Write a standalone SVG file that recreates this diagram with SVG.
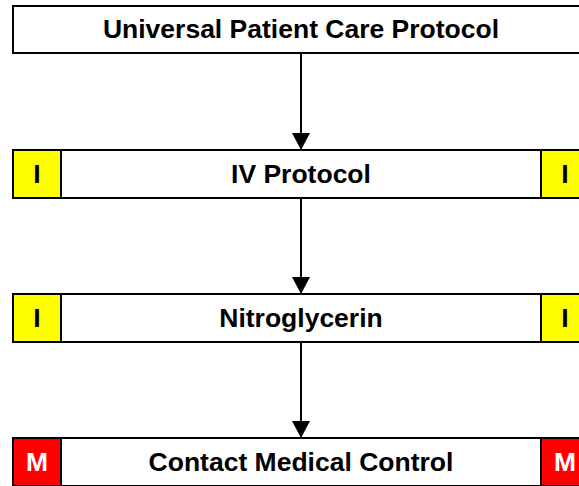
<svg xmlns="http://www.w3.org/2000/svg" width="579" height="486" viewBox="0 0 579 486">
<defs>
<style>
.box{fill:#fff;stroke:#000;stroke-width:2}
.tagI{fill:#ffff00;stroke:#000;stroke-width:2}
.tagM{fill:#ff0000;stroke:#000;stroke-width:2}
.t{font-family:"Liberation Sans",Arial,sans-serif;font-weight:bold;font-size:26.5px;text-anchor:middle;fill:#000}
.tw{font-family:"Liberation Sans",Arial,sans-serif;font-weight:bold;font-size:26.5px;text-anchor:middle;fill:#fff}
.ln{stroke:#000;stroke-width:2;fill:none}
</style>
<marker id="ah" markerWidth="17" markerHeight="18" refX="17" refY="9" orient="auto" markerUnits="userSpaceOnUse">
<path d="M0,0 L17,9 L0,18 Z" fill="#000"/>
</marker>
</defs>
<g id="connectors">
<line class="ln" x1="301" y1="53" x2="301" y2="150" marker-end="url(#ah)"/>
<line class="ln" x1="301" y1="198" x2="301" y2="294" marker-end="url(#ah)"/>
<line class="ln" x1="301" y1="342" x2="301" y2="438" marker-end="url(#ah)"/>
</g>
<g id="n1">
<rect class="box" x="13" y="6" width="576" height="47"/>
<text class="t" x="301" y="38">Universal Patient Care Protocol</text>
</g>
<g id="n2">
<rect class="box" x="13" y="150" width="576" height="48"/>
<rect class="tagI" x="13" y="150" width="48" height="48"/>
<rect class="tagI" x="541" y="150" width="48" height="48"/>
<text class="t" x="301" y="183">IV Protocol</text>
<text class="t" x="37" y="183">I</text>
<text class="t" x="565" y="183">I</text>
</g>
<g id="n3">
<rect class="box" x="13" y="294" width="576" height="48"/>
<rect class="tagI" x="13" y="294" width="48" height="48"/>
<rect class="tagI" x="541" y="294" width="48" height="48"/>
<text class="t" x="301" y="327">Nitroglycerin</text>
<text class="t" x="37" y="327">I</text>
<text class="t" x="565" y="327">I</text>
</g>
<g id="n4">
<rect class="box" x="13" y="438" width="576" height="48"/>
<rect class="tagM" x="13" y="438" width="48" height="48"/>
<rect class="tagM" x="541" y="438" width="48" height="48"/>
<text class="t" x="301" y="471">Contact Medical Control</text>
<text class="tw" x="37" y="471">M</text>
<text class="tw" x="565" y="471">M</text>
</g>
</svg>
